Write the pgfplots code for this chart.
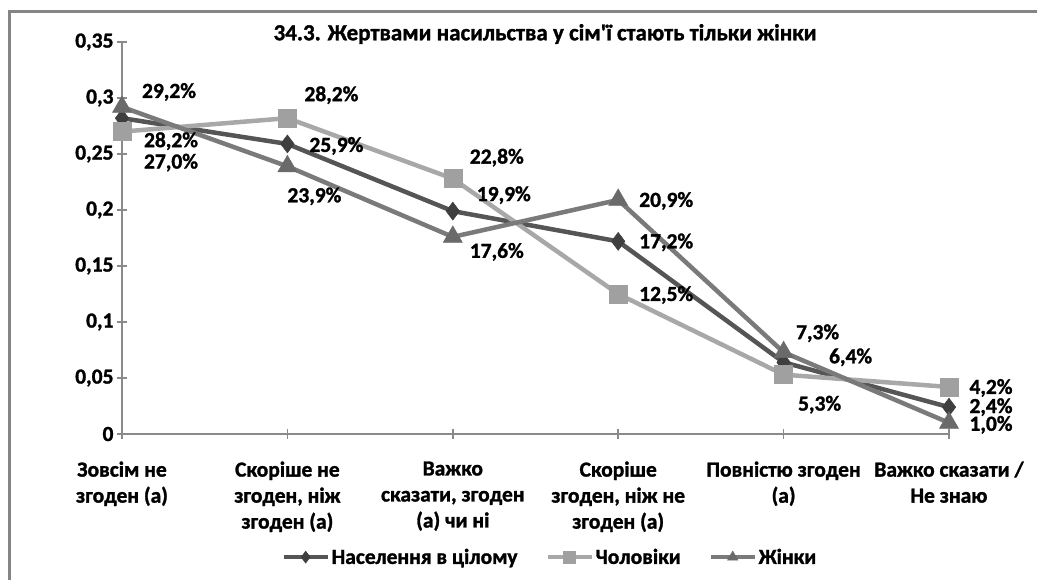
\documentclass[border=0pt]{standalone}
\usepackage{fontspec}
\setmainfont{Carlito}[BoldFeatures={FakeBold=1.3}]
\usepackage{pgfplots}
\usepackage{pgfplotstable}
\pgfplotsset{compat=1.18}

\definecolor{cPop}{HTML}{555555}
\definecolor{cPopM}{HTML}{3F3F3F}
\definecolor{cMen}{HTML}{A8A8A8}
\definecolor{cMenM}{HTML}{A0A0A0}
\definecolor{cWom}{HTML}{7A7A7A}
\definecolor{cWomM}{HTML}{6A6A6A}
\definecolor{axgray}{HTML}{8A8A8A}
\definecolor{framegray}{HTML}{858585}

\newcommand\fs{\fontsize{21.5}{26}\selectfont\bfseries}
\newcommand\ft{\fontsize{23}{28}\selectfont\bfseries}

\pgfplotstableread{
x y dx dy
0 0.282 49 -23
1 0.259 49 -2
2 0.199 51 16
3 0.172 48 -1
4 0.064 67 5
5 0.024 42 0
}\pop
\pgfplotstableread{
x y dx dy
0 0.270 49 -31
1 0.282 44 23
2 0.228 44 21
3 0.125 48 -1
4 0.053 36 -30
5 0.042 42 -1
}\men
\pgfplotstableread{
x y dx dy
0 0.292 47 15
1 0.239 27 -30
2 0.176 44 -15
3 0.209 48 -1
4 0.073 34 19
5 0.010 42 -2
}\wom

\pgfplotsset{
  lbl/.style={
    point meta={100*\thisrow{y}},
    visualization depends on={\thisrow{dx}\as\dx},
    visualization depends on={\thisrow{dy}\as\dy},
    nodes near coords={\pgfmathprintnumber[fixed,fixed zerofill,precision=1,use comma,assume math mode=true]{\pgfplotspointmeta}\%},
    every node near coord/.append style={font=\fs, text=black, anchor=center, xshift=\dx pt, yshift=\dy pt},
  }
}

\begin{document}
\begin{tikzpicture}[x=1pt,y=1pt]
\draw[framegray, line width=3.5pt] (9.5,-640) -- (9.5,-11.5) -- (1100,-11.5);
\node[font=\ft] at (545,-34) {34.3. Жертвами насильства у сім{\addfontfeatures{Ligatures=TeXOff}'}ї стають тільки жінки};
\begin{axis}[
  at={(122pt,-434pt)}, anchor=south west,
  scale only axis, width=827pt, height=392pt,
  xmin=0, xmax=5, ymin=0, ymax=0.35,
  axis lines=left, axis line style={axgray, line width=1.5pt, -},
  xtick={0,1,2,3,4,5},
  xticklabels={{Зовсім не\\згоден (а)},{Скоріше не\\згоден, ніж\\згоден (а)},{Важко\\сказати, згоден\\(а) чи ні},{Скоріше\\згоден, ніж не\\згоден (а)},{Повністю згоден\\(а)},{Важко сказати /\\Не знаю}},
  ytick={0,0.05,0.1,0.15,0.2,0.25,0.3,0.35},
  yticklabels={0,{0,05},{0,1},{0,15},{0,2},{0,25},{0,3},{0,35}},
  xticklabel style={align=center, font=\fs, yshift=-19pt},
  yticklabel style={font=\fs},
  tick style={axgray, line width=1.5pt}, major tick length=10pt, tick align=center,
  clip=false,
  legend style={at={(0.5175,-0.314)}, anchor=center, draw=none, fill=none, font=\fs,
    legend columns=3, /tikz/every even column/.append style={column sep=26pt}},
  legend cell align=left,
  legend image code/.code={\draw[#1, line width=4pt, mark size=6pt, mark repeat=2, mark phase=2] plot coordinates {(0pt,0pt) (22pt,0pt) (44pt,0pt)};},
]
\addplot[cPop, line width=4.5pt, mark=diamond*, mark size=9pt, mark options={fill=cPopM, draw=cPopM, line width=0.5pt}, lbl] table[x=x,y=y]{\pop};
\addlegendentry{Населення в цілому}
\addplot[cMen, line width=4.5pt, mark=square*, mark size=9pt, mark options={fill=cMenM, draw=cMenM, line width=0.5pt}, lbl] table[x=x,y=y]{\men};
\addlegendentry{Чоловіки}
\addplot[cWom, line width=4.5pt, mark=triangle*, mark size=11pt, mark options={fill=cWomM, draw=cWomM, line width=0.5pt}, lbl] table[x=x,y=y]{\wom};
\addlegendentry{Жінки}
\end{axis}
\pgfresetboundingbox
\useasboundingbox (0,0) rectangle (1037,-579);
\end{tikzpicture}
\end{document}
